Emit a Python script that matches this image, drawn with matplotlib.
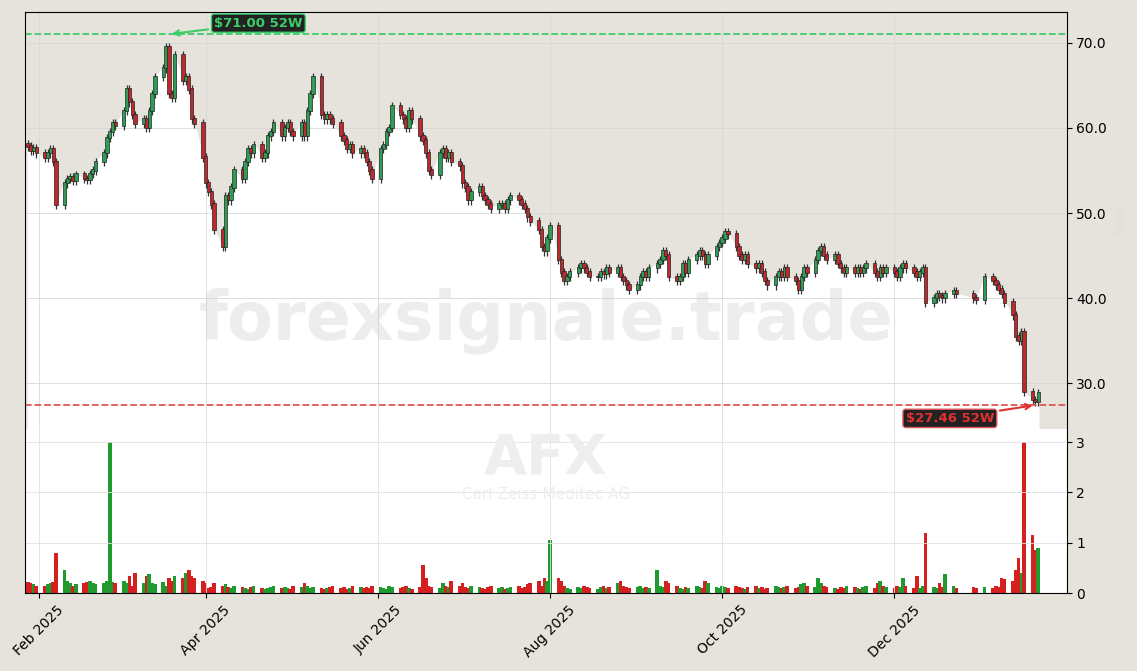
import matplotlib.pyplot as plt
import matplotlib.dates as mdates
import numpy as np
import pandas as pd

closes = [
    57.8, 57.3, 57.6, 57.0,
    56.5, 57.0, 57.5, 56.0, 51.0, 53.5, 54.0, 54.2, 53.8, 54.5, 54.0, 53.9, 54.6, 55.0, 56.0, 57.0, 58.8, 59.5, 60.5, 60.2,
    62.0, 64.5, 63.0, 61.5, 60.5, 61.0, 60.0, 62.0, 64.0, 66.0, 67.0, 69.5, 64.0, 63.5, 68.5, 65.5, 66.0, 64.5, 61.0, 60.5, 56.5,
    53.5, 52.5, 51.0, 48.0, 46.0, 52.0, 51.5, 53.0, 55.0, 54.0, 56.0, 57.5, 57.0, 58.0, 56.5, 57.0, 59.0, 59.5, 60.5, 59.0, 60.0,
    60.5, 59.5, 59.0, 60.5, 59.0, 62.0, 64.0, 66.0, 61.5, 61.0, 61.5, 61.0, 60.5, 59.0, 58.5, 57.5, 58.0, 57.0, 57.5, 57.0, 56.0, 55.0,
    54.0, 57.5, 58.0, 59.5, 60.0, 62.5, 61.5, 61.0, 60.0, 62.0, 61.0, 59.0, 58.5, 57.0, 55.0, 54.5, 57.0, 57.5, 56.5, 57.0, 56.0,
    55.5, 53.5, 53.0, 51.5, 52.5, 53.0, 52.0, 51.5, 51.0, 50.5, 51.0, 51.0, 50.5, 51.5, 52.0, 51.5, 51.0, 50.5, 49.5, 49.0, 48.0, 46.0, 45.5,
    47.0, 48.5, 44.5, 43.0, 42.0, 42.5, 43.0, 43.5, 44.0, 43.5, 43.0, 42.5, 42.5, 43.0, 42.8, 43.5, 43.0, 43.5, 42.5, 42.0, 41.5,
    41.0, 41.5, 42.5, 43.0, 42.5, 43.5, 44.0, 44.5, 45.5, 45.0, 42.5, 42.0, 42.5, 44.0, 43.0, 44.5, 45.0, 45.5, 45.0, 44.0, 45.0, 46.0,
    46.5, 47.0, 47.8, 47.5, 46.0, 45.0, 44.5, 45.0, 44.0, 43.5, 44.0, 43.0, 42.0, 41.5, 42.5, 43.0, 42.5, 43.5, 42.5, 42.0, 41.0, 42.5, 43.5,
    43.0, 44.5, 45.5, 46.0, 45.0, 44.5, 45.0, 44.0, 43.5, 43.0, 43.5, 43.0, 43.5, 43.0, 43.5, 44.0, 43.0, 42.5, 43.5, 43.0,
    43.5, 43.0, 42.5, 43.5, 44.0, 43.5, 43.0, 42.5, 43.0, 43.5, 39.5, 40.0, 40.5, 40.2, 40.0, 40.5, 40.8, 40.5, 40.0, 39.8,
    42.5, 42.0, 41.5, 41.0, 40.5, 39.5, 38.0, 35.5, 35.0, 36.0, 29.0, 28.0, 27.8, 28.8,
]

volumes = [
    .22, .2, .18, .15,
    .15, .18, .2, .22, .8, .45, .25, .2, .15, .18, .2, .22, .25, .2, .18, .2, .25, 3.0, .22, .2,
    .25, .2, .35, .15, .4, .2, .35, .38, .2, .18, .22, .15, .3, .25, .35, .3, .4, .45, .35, .3, .25,
    .2, .1, .12, .2, .15, .18, .12, .1, .15, .12, .1, .08, .12, .15, .1, .08, .1, .12, .15, .1, .12,
    .1, .08, .15, .12, .2, .15, .1, .12, .1, .08, .1, .12, .15, .1, .12, .08, .1, .15, .12, .1, .12, .1,
    .15, .12, .1, .08, .15, .12, .1, .12, .15, .1, .08, .12, .55, .3, .15, .12, .1, .2, .15, .12, .25,
    .15, .2, .12, .1, .15, .12, .1, .08, .12, .15, .1, .12, .08, .1, .12, .15, .1, .12, .18, .2, .25, .15, .3,
    .25, 1.05, .3, .25, .15, .1, .08, .12, .1, .15, .12, .1, .08, .12, .15, .1, .12, .2, .25, .15, .12,
    .1, .12, .15, .1, .12, .1, .45, .15, .12, .25, .2, .15, .1, .08, .12, .1, .15, .12, .1, .25, .2, .12,
    .1, .15, .12, .1, .15, .12, .1, .08, .12, .15, .1, .12, .08, .1, .15, .12, .1, .12, .15, .1, .12, .18, .2,
    .15, .12, .3, .2, .15, .12, .1, .08, .12, .1, .15, .12, .1, .08, .12, .15, .1, .2, .25, .15,
    .12, .1, .15, .12, .3, .15, .1, .35, .1, .15, 1.2, .12, .1, .2, .12, .38, .15, .1, .12, .1,
    .12, .1, .15, .12, .3, .28, .25, .45, .7, .4, 3.0, 1.15, .85, .9,
]

holidays = ["2025-12-24", "2025-12-25", "2025-12-26", "2025-12-31", "2026-01-01"]

high_52w = 71.00
low_52w = 27.46

dates = pd.bdate_range("2025-01-28", periods=len(closes), freq="C", holidays=holidays)
x = mdates.date2num(dates)
c = np.array(closes)
o = np.concatenate([[c[0] + 0.3], c[:-1]])
hi = np.maximum(o, c) + 0.5
lo = np.minimum(o, c) - 0.5
up = c >= o

bg = "#e6e3dc"
fig = plt.figure(figsize=(11.37, 6.71), dpi=100, facecolor=bg)
ax = fig.add_axes([0.022, 0.36, 0.916, 0.622])
axv = fig.add_axes([0.022, 0.116, 0.916, 0.244], sharex=ax)

ax.set_facecolor(bg)
ymin, ymax = 24.6, 73.6
ax.fill_between(x, c, ymin, color="white", zorder=0)
ax.vlines(x, lo, hi, color="#333333", lw=0.9, zorder=2)
ax.bar(x, np.abs(c - o) + 0.15, bottom=np.minimum(o, c), width=1.2,
       color=np.where(up, "#2e9e55", "#c0282d"), edgecolor="#222222", lw=0.5, zorder=3)
ax.set_ylim(ymin, ymax)
ax.yaxis.tick_right()
ax.set_yticks([30, 40, 50, 60, 70])
ax.yaxis.set_major_formatter(plt.FormatStrFormatter("%.1f"))
ax.grid(color="#d8d8d8", lw=0.6)
ax.tick_params(labelbottom=False, bottom=False, labelsize=10)
ax.spines["bottom"].set_visible(False)

ax.axhline(high_52w, color="#3dcc6a", ls="--", lw=1.3)
ax.axhline(low_52w, color="#e05555", ls="--", lw=1.3)
ih = int(np.argmax(c))
ax.annotate(f"${high_52w:.2f} 52W", xy=(x[ih] + 1, high_52w), xytext=(x[ih] + 17, 72.3),
            color="#3dcc6a", fontsize=9.5, fontweight="bold", va="center",
            bbox=dict(boxstyle="round,pad=0.2", fc="#222222", ec="#3dcc6a"),
            arrowprops=dict(arrowstyle="->", color="#3dcc6a", lw=1.5))
ax.annotate(f"${low_52w:.2f} 52W", xy=(x[-2], low_52w), xytext=(x[-1] - 47, 25.9),
            color="#e03030", fontsize=9.5, fontweight="bold", va="center",
            bbox=dict(boxstyle="round,pad=0.2", fc="#222222", ec="#e05555"),
            arrowprops=dict(arrowstyle="->", color="#e03030", lw=1.5))
ax.text(0.5, 0.26, "forexsignale.trade", transform=ax.transAxes, ha="center", va="center",
        fontsize=48, fontweight="bold", color="#cccccc", alpha=0.35)
ax.set_ylabel("Preis", color="#dddddd", fontsize=9)
ax.yaxis.set_label_position("right")

axv.set_facecolor("white")
axv.spines["top"].set_visible(False)
vcol = np.where(up, "#1f9a2f", "#d62020")
axv.bar(x, volumes, width=1.3, color=vcol)
axv.set_ylim(0, 3.25)
axv.yaxis.tick_right()
axv.set_yticks([0, 1, 2, 3])
axv.grid(color="#e0e0e0", lw=0.6)
axv.text(0.5, 0.82, "AFX", transform=axv.transAxes, ha="center", va="center",
         fontsize=40, fontweight="bold", color="#eeeeee")
axv.text(0.5, 0.6, "Carl Zeiss Meditec AG", transform=axv.transAxes, ha="center", va="center",
         fontsize=11, color="#eeeeee")
axv.set_ylabel("Volumen\n1e6", color="#e6e6e6", fontsize=9)
axv.yaxis.set_label_position("right")
axv.tick_params(labelsize=10)

axv.xaxis.set_major_locator(mdates.MonthLocator(bymonth=[2, 4, 6, 8, 10, 12]))
axv.xaxis.set_major_formatter(mdates.DateFormatter("%b %Y"))
axv.set_xlim(mdates.date2num(pd.Timestamp("2025-01-27")), mdates.date2num(pd.Timestamp("2026-01-31")))
plt.setp(axv.get_xticklabels(), rotation=45, ha="center")

fig.savefig("out.png", dpi=100, facecolor=bg)
